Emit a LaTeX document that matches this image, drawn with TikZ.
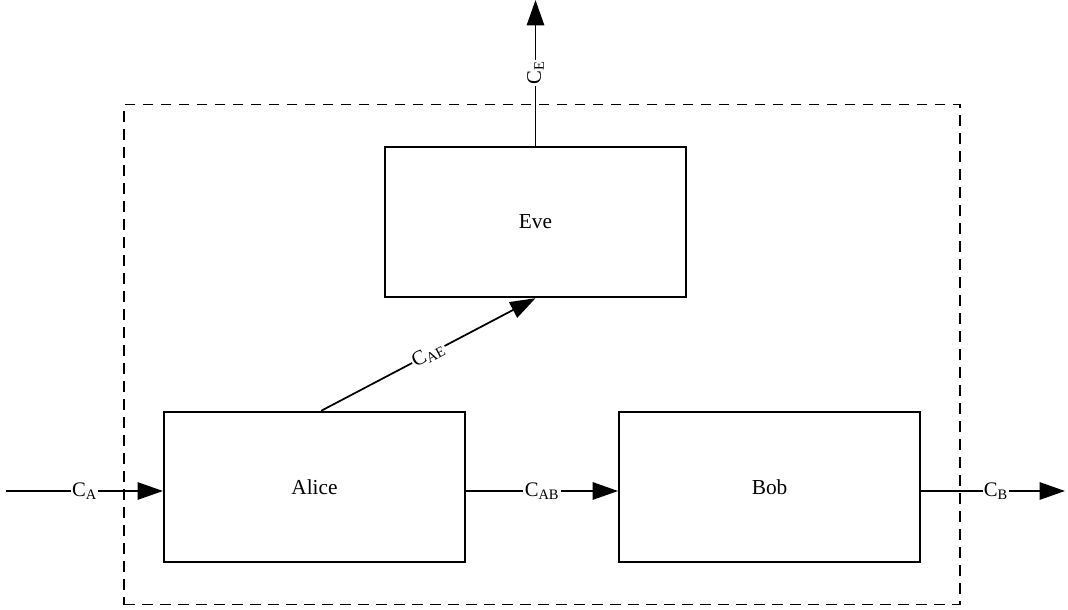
\documentclass[tikz,border=0pt]{standalone}
\usepackage{fontspec}
\setmainfont{Liberation Serif}
\usepackage{tikz}
\usetikzlibrary{positioning, arrows.meta, fit}
\tikzset{
    party/.style={rectangle, draw=black, line width=1.3pt, fill=white, align=center, minimum width=226pt, minimum height=113pt, font=\fontsize{16}{19}\selectfont},
    channel/.style={line width=1.3pt, -{Triangle[length=19pt, width=13pt]}},
    chlabel/.style={fill=white, inner sep=1pt, font=\fontsize{15.5}{18}\selectfont},
    system/.style={draw=black, line width=1.3pt, dash pattern=on 8pt off 5.5pt, inner xsep=29pt, inner ysep=31pt}
}

\begin{document}
\begin{tikzpicture}[x=0.75pt, y=-0.75pt]
        \useasboundingbox (0,0) rectangle (1068,610);

        % Parties
        \node[party] (Alice) at (314.5,487) {Alice};
        \node[party, right=114pt of Alice] (Bob) {Bob};
        \node[party] (Eve) at (535.5,222) {Eve};

        % Enclosing system
        \node[system, fit=(Alice)(Bob)(Eve)] (Sys) {};

        % Loose ends
        \coordinate (In) at (6,491);
        \coordinate (Out) at (1065,491);
        \coordinate (Leak) at (535.5,0);

        % Channels
        \draw[channel] (In) -- node[chlabel, pos=0.5] {C\textsubscript{A}} (In -| Alice.west);
        \draw[channel] (In -| Alice.east) -- node[chlabel] {C\textsubscript{AB}} (In -| Bob.west);
        \draw[channel] (In -| Bob.east) -- node[chlabel, pos=0.52] {C\textsubscript{B}} (Out);
        \draw[channel] ([xshift=5pt]Alice.north) -- node[chlabel, sloped, pos=0.5] {C\textsubscript{AE}} (Eve.south);
        \draw[channel] (Eve.north) -- node[chlabel, rotate=90, pos=0.5] {C\textsubscript{E}} (Leak);

    \end{tikzpicture}
\end{document}
